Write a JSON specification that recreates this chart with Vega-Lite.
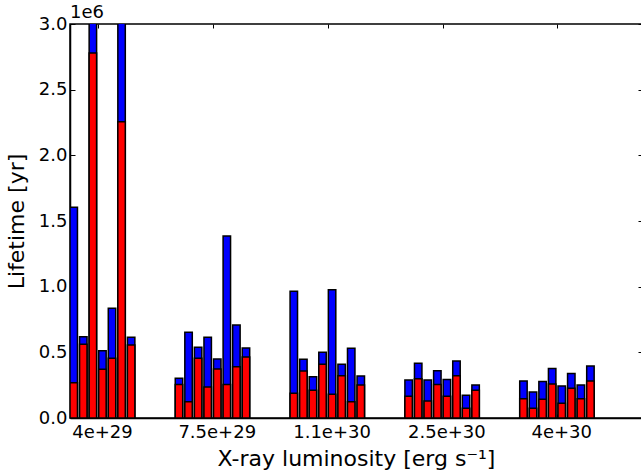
{
  "$schema": "https://vega.github.io/schema/vega-lite/v6.json",
  "autosize": {"type": "none"},
  "padding": {"left": 70, "top": 24, "right": 0, "bottom": 58},
  "width": 572,
  "height": 394,
  "title": {"text": "1e6", "anchor": "start", "frame": "group", "fontSize": 18, "fontWeight": "normal", "font": "DejaVu Sans", "offset": -21, "baseline": "alphabetic", "color": "black"},
  "config": {
    "view": {"stroke": "black", "strokeWidth": 1.5},
    "font": "DejaVu Sans",
    "axis": {"grid": false, "domainColor": "black", "domainWidth": 1.5, "tickColor": "black", "tickWidth": 1, "labelFont": "DejaVu Sans", "labelFontSize": 18, "labelColor": "black", "titleFont": "DejaVu Sans", "titleFontSize": 22, "titleFontWeight": "normal", "titleColor": "black"}
  },
  "data": {"values": [
    {"lum": "4e+29", "k": 1, "bar": "4e+29 #1", "total": 1604000, "red": 269000},
    {"lum": "4e+29", "k": 2, "bar": "4e+29 #2", "total": 619000, "red": 561000},
    {"lum": "4e+29", "k": 3, "bar": "4e+29 #3", "total": 3200000, "red": 2780000},
    {"lum": "4e+29", "k": 4, "bar": "4e+29 #4", "total": 513000, "red": 371000},
    {"lum": "4e+29", "k": 5, "bar": "4e+29 #5", "total": 835000, "red": 454000},
    {"lum": "4e+29", "k": 6, "bar": "4e+29 #6", "total": 3200000, "red": 2256000},
    {"lum": "4e+29", "k": 7, "bar": "4e+29 #7", "total": 614000, "red": 556000},
    {"lum": "7.5e+29", "k": 0, "bar": "7.5e+29 #0", "total": 302000, "red": 256000},
    {"lum": "7.5e+29", "k": 1, "bar": "7.5e+29 #1", "total": 652000, "red": 124000},
    {"lum": "7.5e+29", "k": 2, "bar": "7.5e+29 #2", "total": 538000, "red": 454000},
    {"lum": "7.5e+29", "k": 3, "bar": "7.5e+29 #3", "total": 614000, "red": 236000},
    {"lum": "7.5e+29", "k": 4, "bar": "7.5e+29 #4", "total": 449000, "red": 373000},
    {"lum": "7.5e+29", "k": 5, "bar": "7.5e+29 #5", "total": 1386000, "red": 256000},
    {"lum": "7.5e+29", "k": 6, "bar": "7.5e+29 #6", "total": 708000, "red": 391000},
    {"lum": "7.5e+29", "k": 7, "bar": "7.5e+29 #7", "total": 533000, "red": 464000},
    {"lum": "1.1e+30", "k": 0, "bar": "1.1e+30 #0", "total": 965000, "red": 188000},
    {"lum": "1.1e+30", "k": 1, "bar": "1.1e+30 #1", "total": 447000, "red": 358000},
    {"lum": "1.1e+30", "k": 2, "bar": "1.1e+30 #2", "total": 315000, "red": 211000},
    {"lum": "1.1e+30", "k": 3, "bar": "1.1e+30 #3", "total": 500000, "red": 409000},
    {"lum": "1.1e+30", "k": 4, "bar": "1.1e+30 #4", "total": 977000, "red": 180000},
    {"lum": "1.1e+30", "k": 5, "bar": "1.1e+30 #5", "total": 409000, "red": 322000},
    {"lum": "1.1e+30", "k": 6, "bar": "1.1e+30 #6", "total": 531000, "red": 124000},
    {"lum": "1.1e+30", "k": 7, "bar": "1.1e+30 #7", "total": 320000, "red": 251000},
    {"lum": "2.5e+30", "k": 0, "bar": "2.5e+30 #0", "total": 289000, "red": 165000},
    {"lum": "2.5e+30", "k": 1, "bar": "2.5e+30 #1", "total": 416000, "red": 299000},
    {"lum": "2.5e+30", "k": 2, "bar": "2.5e+30 #2", "total": 289000, "red": 129000},
    {"lum": "2.5e+30", "k": 3, "bar": "2.5e+30 #3", "total": 360000, "red": 256000},
    {"lum": "2.5e+30", "k": 4, "bar": "2.5e+30 #4", "total": 294000, "red": 165000},
    {"lum": "2.5e+30", "k": 5, "bar": "2.5e+30 #5", "total": 434000, "red": 322000},
    {"lum": "2.5e+30", "k": 6, "bar": "2.5e+30 #6", "total": 173000, "red": 74000},
    {"lum": "2.5e+30", "k": 7, "bar": "2.5e+30 #7", "total": 251000, "red": 211000},
    {"lum": "4e+30", "k": 0, "bar": "4e+30 #0", "total": 282000, "red": 147000},
    {"lum": "4e+30", "k": 1, "bar": "4e+30 #1", "total": 198000, "red": 74000},
    {"lum": "4e+30", "k": 2, "bar": "4e+30 #2", "total": 277000, "red": 142000},
    {"lum": "4e+30", "k": 3, "bar": "4e+30 #3", "total": 376000, "red": 259000},
    {"lum": "4e+30", "k": 4, "bar": "4e+30 #4", "total": 244000, "red": 112000},
    {"lum": "4e+30", "k": 5, "bar": "4e+30 #5", "total": 338000, "red": 226000},
    {"lum": "4e+30", "k": 6, "bar": "4e+30 #6", "total": 251000, "red": 147000},
    {"lum": "4e+30", "k": 7, "bar": "4e+30 #7", "total": 396000, "red": 282000}
  ]},
  "resolve": {"axis": {"x": "independent", "y": "independent"}},
  "layer": [
    {
      "mark": {"type": "bar", "color": "#0000ff", "stroke": "black", "strokeWidth": 1.5, "clip": true},
      "encoding": {
        "x": {"field": "bar", "type": "nominal",
              "scale": {"type": "band", "paddingInner": 0.22, "paddingOuter": 0,
                "domain": ["4e+29 #1","4e+29 #2","4e+29 #3","4e+29 #4","4e+29 #5","4e+29 #6","4e+29 #7","gap0a","gap0b","gap0c","gap0d",
                           "7.5e+29 #0","7.5e+29 #1","7.5e+29 #2","7.5e+29 #3","7.5e+29 #4","7.5e+29 #5","7.5e+29 #6","7.5e+29 #7","gap1a","gap1b","gap1c","gap1d",
                           "1.1e+30 #0","1.1e+30 #1","1.1e+30 #2","1.1e+30 #3","1.1e+30 #4","1.1e+30 #5","1.1e+30 #6","1.1e+30 #7","gap2a","gap2b","gap2c","gap2d",
                           "2.5e+30 #0","2.5e+30 #1","2.5e+30 #2","2.5e+30 #3","2.5e+30 #4","2.5e+30 #5","2.5e+30 #6","2.5e+30 #7","gap3a","gap3b","gap3c","gap3d",
                           "4e+30 #0","4e+30 #1","4e+30 #2","4e+30 #3","4e+30 #4","4e+30 #5","4e+30 #6","4e+30 #7","gap4a","gap4b","gap4c","gap4d","gap4e"]},
              "axis": {"values": ["4e+29 #4","7.5e+29 #4","1.1e+30 #4","2.5e+30 #4","4e+30 #4"], "bandPosition": 0,
                       "labelExpr": "split(datum.value, ' ')[0]", "labelAngle": 0, "tickSize": -4, "labelPadding": 9, "title": "X-ray luminosity [erg s⁻¹]", "titlePadding": 7}},
        "y": {"field": "total", "type": "quantitative", "stack": null,
              "scale": {"domain": [0, 3000000], "nice": false},
              "axis": {"values": [0, 500000, 1000000, 1500000, 2000000, 2500000, 3000000], "labelExpr": "format(datum.value/1e6, '.1f')", "tickSize": -5, "labelPadding": 8, "title": "Lifetime [yr]", "titlePadding": 10}}
      }
    },
    {
      "mark": {"type": "bar", "color": "#ff0000", "stroke": "black", "strokeWidth": 1.5, "clip": true},
      "encoding": {
        "x": {"field": "bar", "type": "nominal",
              "axis": {"orient": "top", "values": ["4e+29 #4","7.5e+29 #4","1.1e+30 #4","2.5e+30 #4","4e+30 #4"], "bandPosition": 0, "labels": false, "tickSize": -4, "title": null, "domain": false}},
        "y": {"field": "red", "type": "quantitative", "stack": null,
              "axis": {"orient": "right", "values": [0, 500000, 1000000, 1500000, 2000000, 2500000, 3000000], "labels": false, "tickSize": -4, "title": null, "domain": false}}
      }
    }
  ]
}
